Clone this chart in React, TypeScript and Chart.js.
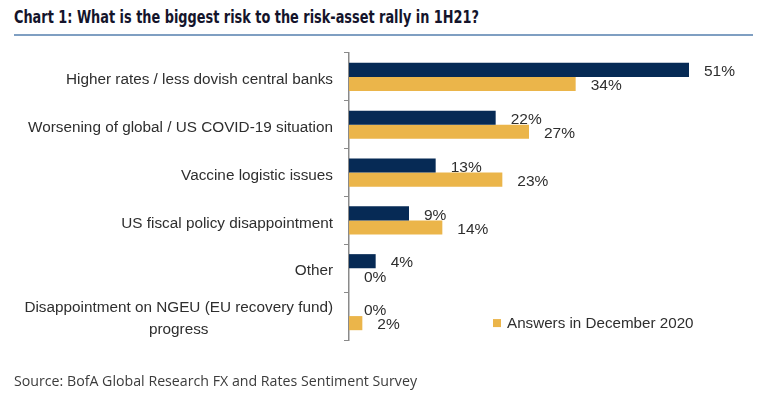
import React, { useEffect, useRef } from "react";
import { Chart, registerables } from "chart.js";

Chart.register(...registerables);

const categories: (string | string[])[] = [
  "Higher rates / less dovish central banks",
  "Worsening of global / US COVID-19 situation",
  "Vaccine logistic issues",
  "US fiscal policy disappointment",
  "Other",
  ["Disappointment on NGEU (EU recovery fund)", "progress"],
];
const currentAnswers = [51, 22, 13, 9, 4, 0];
const decemberAnswers = [34, 27, 23, 14, 0, 2];
const seriesNames = ["Current answers", "Answers in December 2020"];
const xMax = 60;

const NAVY = "#062a55";
const GOLD = "#ebb54a";
const TEXT = "#2e2e2e";
const FONT = "Arial, 'Liberation Sans', sans-serif";

const labelPlugin = {
  id: "customLabels",
  afterDraw(chart: any) {
    const ctx = chart.ctx;
    const yScale = chart.scales.y;
    ctx.save();
    // category labels
    ctx.font = `15.3px ${FONT}`;
    ctx.fillStyle = TEXT;
    ctx.textBaseline = "middle";
    const right = yScale.right - 16;
    categories.forEach((c, i) => {
      const y = yScale.getPixelForValue(i);
      const lines = Array.isArray(c) ? c : [c];
      const lh = 22;
      const maxW = Math.max(...lines.map((l) => ctx.measureText(l).width));
      lines.forEach((l, k) => {
        const ly = y + (k - (lines.length - 1) / 2) * lh + 3;
        if (lines.length > 1) {
          ctx.textAlign = "center";
          ctx.fillText(l, right - maxW / 2, ly);
        } else {
          ctx.textAlign = "right";
          ctx.fillText(l, right, ly);
        }
      });
    });
    // value labels
    ctx.font = `15.5px ${FONT}`;
    ctx.textAlign = "left";
    chart.data.datasets.forEach((ds: any, di: number) => {
      const meta = chart.getDatasetMeta(di);
      meta.data.forEach((el: any, i: number) => {
        ctx.fillText(`${ds.data[i]}%`, el.x + 15, el.y + 2);
      });
    });
    // legend (only December series shown)
    const ds = chart.data.datasets[1];
    const lx = chart.scales.x.getPixelForValue(21.6);
    const ly = yScale.getPixelForValue(5) + 7;
    ctx.fillStyle = ds.backgroundColor;
    ctx.fillRect(lx, ly - 4, 8, 8);
    ctx.fillStyle = TEXT;
    ctx.font = `15.2px ${FONT}`;
    ctx.textBaseline = "middle";
    ctx.fillText(ds.label, lx + 14, ly + 1);
    ctx.restore();
  },
};

export default function App() {
  const ref = useRef<HTMLCanvasElement | null>(null);
  useEffect(() => {
    if (!ref.current) return;
    const chart = new Chart(ref.current, {
      type: "bar",
      data: {
        labels: categories as any,
        datasets: [
          {
            label: seriesNames[0],
            data: currentAnswers,
            backgroundColor: NAVY,
            categoryPercentage: 0.59,
            barPercentage: 1,
          },
          {
            label: seriesNames[1],
            data: decemberAnswers,
            backgroundColor: GOLD,
            categoryPercentage: 0.59,
            barPercentage: 1,
          },
        ],
      },
      options: {
        indexAxis: "y",
        responsive: false,
        animation: false,
        layout: { padding: { top: 53, bottom: 59, right: 12, left: 0 } },
        plugins: {
          legend: { display: false },
          tooltip: { enabled: false },
          title: { display: false },
        },
        scales: {
          x: { display: false, min: 0, max: xMax },
          y: {
            afterFit: (s: any) => {
              s.width = 349;
            },
            grid: {
              offset: true,
              drawOnChartArea: false,
              drawTicks: true,
              tickLength: 5,
              color: "#8a8a8a",
              lineWidth: 1,
            },
            border: { display: true, color: "#8a8a8a", width: 1.5 },
            ticks: { display: false },
          },
        },
      },
      plugins: [labelPlugin],
    });
    return () => chart.destroy();
  }, []);

  return (
    <div
      style={{
        position: "fixed",
        left: 0,
        top: 0,
        width: 761,
        height: 399,
        background: "#fff",
        overflow: "hidden",
      }}
    >
      <div
        style={{
          position: "absolute",
          left: 14,
          top: 7,
          font: "bold 17px 'Liberation Sans Narrow', 'DejaVu Sans Condensed', sans-serif",
          color: "#14142b",
          whiteSpace: "nowrap",
          transform: "scaleX(0.842)",
          transformOrigin: "left center",
        }}
      >
        Chart 1: What is the biggest risk to the risk-asset rally in 1H21?
      </div>
      <div
        style={{
          position: "absolute",
          left: 14,
          top: 34,
          width: 739,
          height: 2,
          background: "#7f9fc2",
        }}
      />
      <canvas ref={ref} width={761} height={399} style={{ position: "absolute", left: 0, top: 0 }} />
      <div
        style={{
          position: "absolute",
          left: 14,
          top: 371,
          font: "14.2px 'Open Sans', 'Noto Sans', sans-serif",
          color: "#3c3c3c",
          whiteSpace: "nowrap",
        }}
      >
        Source: BofA Global Research FX and Rates Sentiment Survey
      </div>
    </div>
  );
}
